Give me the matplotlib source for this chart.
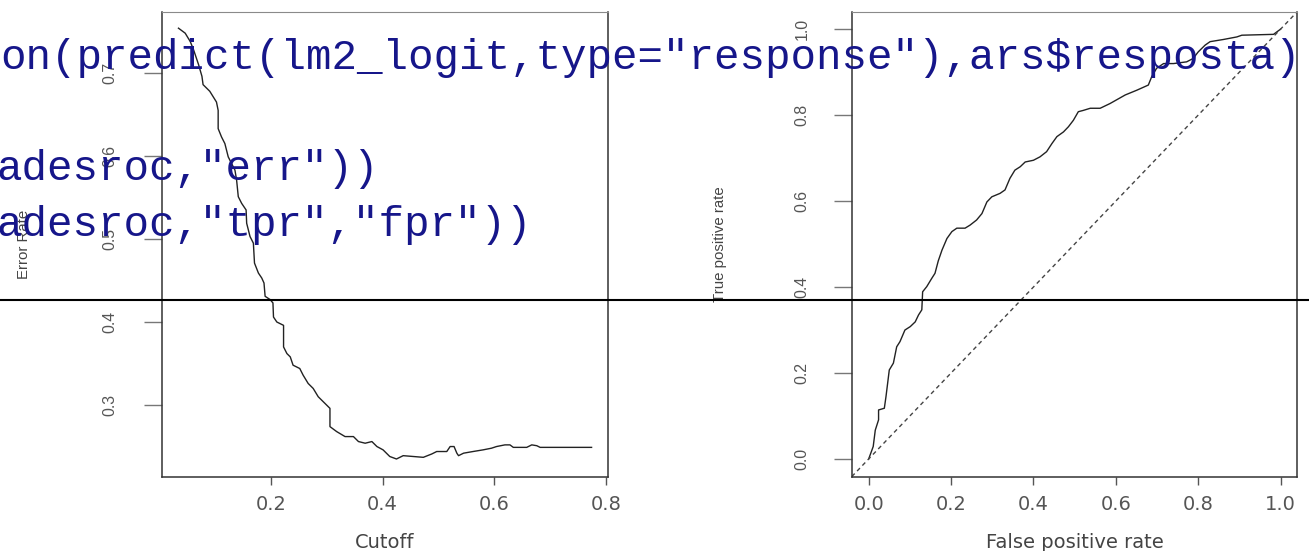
import matplotlib
matplotlib.use("Agg")
import matplotlib.pyplot as plt
from matplotlib.lines import Line2D

# error rate vs cutoff
cutoff = [0.035, 0.047, 0.056, 0.062, 0.071, 0.077, 0.079, 0.091, 0.103, 0.106,
          0.106, 0.112, 0.118, 0.124, 0.136, 0.139, 0.142, 0.148, 0.156, 0.157,
          0.163, 0.169, 0.171, 0.178, 0.184, 0.188, 0.190, 0.199, 0.204, 0.205,
          0.211, 0.223, 0.223, 0.229, 0.235, 0.240, 0.252, 0.258, 0.267, 0.276,
          0.285, 0.297, 0.306, 0.306, 0.318, 0.333, 0.348, 0.357, 0.369, 0.381,
          0.390, 0.401, 0.413, 0.425, 0.437, 0.455, 0.473, 0.488, 0.497, 0.515,
          0.521, 0.528, 0.533, 0.536, 0.545, 0.562, 0.580, 0.595, 0.604, 0.619,
          0.628, 0.634, 0.658, 0.667, 0.676, 0.682, 0.774]
err_rate = [0.754, 0.748, 0.738, 0.728, 0.710, 0.696, 0.686, 0.678, 0.665, 0.655,
            0.633, 0.623, 0.615, 0.599, 0.583, 0.571, 0.551, 0.543, 0.535, 0.519,
            0.503, 0.495, 0.471, 0.459, 0.453, 0.447, 0.431, 0.427, 0.423, 0.406,
            0.400, 0.396, 0.370, 0.362, 0.358, 0.348, 0.344, 0.336, 0.326, 0.320,
            0.310, 0.302, 0.296, 0.274, 0.268, 0.262, 0.262, 0.256, 0.254, 0.256,
            0.250, 0.246, 0.238, 0.235, 0.239, 0.238, 0.237, 0.241, 0.244, 0.244,
            0.250, 0.250, 0.242, 0.239, 0.242, 0.244, 0.246, 0.248, 0.250, 0.252,
            0.252, 0.249, 0.249, 0.252, 0.251, 0.249, 0.249]

# ROC curve (right panel)
fpr = [0.000, 0.008, 0.011, 0.016, 0.024, 0.024, 0.038, 0.042, 0.046, 0.050,
       0.060, 0.068, 0.076, 0.088, 0.101, 0.113, 0.121, 0.129, 0.131, 0.141,
       0.153, 0.161, 0.169, 0.178, 0.190, 0.202, 0.214, 0.234, 0.246, 0.262,
       0.275, 0.287, 0.299, 0.319, 0.331, 0.343, 0.355, 0.368, 0.380, 0.400,
       0.416, 0.432, 0.445, 0.457, 0.473, 0.485, 0.497, 0.509, 0.521, 0.538,
       0.562, 0.586, 0.623, 0.651, 0.679, 0.687, 0.699, 0.716, 0.740, 0.772,
       0.788, 0.800, 0.817, 0.829, 0.861, 0.894, 0.906, 0.983, 1.000]
tpr = [0.000, 0.021, 0.029, 0.067, 0.091, 0.114, 0.118, 0.145, 0.176, 0.207,
       0.223, 0.261, 0.273, 0.300, 0.308, 0.319, 0.335, 0.347, 0.389, 0.401,
       0.420, 0.432, 0.461, 0.486, 0.513, 0.529, 0.537, 0.537, 0.544, 0.556,
       0.571, 0.598, 0.610, 0.618, 0.626, 0.653, 0.672, 0.680, 0.691, 0.695,
       0.703, 0.715, 0.734, 0.750, 0.761, 0.773, 0.788, 0.808, 0.811, 0.816,
       0.816, 0.827, 0.847, 0.858, 0.870, 0.889, 0.909, 0.920, 0.920, 0.924,
       0.932, 0.947, 0.963, 0.971, 0.976, 0.982, 0.986, 0.988, 1.000]

left_xticks = [0.2, 0.4, 0.6, 0.8]
left_yticks = [0.3, 0.4, 0.5, 0.6, 0.7]
right_ticks = [0.0, 0.2, 0.4, 0.6, 0.8, 1.0]

code_lines = ['on(predict(lm2_logit,type="response"),ars$resposta)',
              'adesroc,"err"))',
              'adesroc,"tpr","fpr"))']

W, H = 1309, 551
fig = plt.figure(figsize=(W / 100, H / 100), dpi=100)
fig.patch.set_facecolor("white")

ax1 = fig.add_axes([161.7 / W, 74 / H, 446.3 / W, 465 / H])
ax2 = fig.add_axes([851.8 / W, 74 / H, 445.2 / W, 465 / H])

ax1.plot(cutoff, err_rate, color="#222222", lw=1.0)
ax1.set_xlim(0.005, 0.8034)
ax1.set_ylim(0.2133, 0.7735)
ax1.set_xticks(left_xticks)
ax1.set_xticklabels([f"{t:.1f}" for t in left_xticks])
ax1.set_yticks(left_yticks)
ax1.set_yticklabels([f"{t:.1f}" for t in left_yticks])

ax2.plot(fpr, tpr, color="#222222", lw=1.0)
ax2.axline((0, 0), slope=1, color="#444444", lw=1.0, ls=(0, (3, 2.5)))
ax2.set_xlim(-0.041, 1.040)
ax2.set_ylim(-0.042, 1.040)
ax2.set_xticks(right_ticks)
ax2.set_xticklabels([f"{t:.1f}" for t in right_ticks])
ax2.set_yticks(right_ticks)
ax2.set_yticklabels([f"{t:.1f}" for t in right_ticks])

for ax, ypad in ((ax1, 19), (ax2, 17.5)):
    for side in ("left", "bottom", "right"):
        ax.spines[side].set_color("#333333")
        ax.spines[side].set_linewidth(1.1)
    ax.spines["top"].set_color("#8a8a8a")
    ax.tick_params(axis="x", length=5.5, width=1, color="#555555", pad=7.5,
                   labelsize=14, labelcolor="#555555")
    ax.tick_params(axis="y", length=13, width=1, color="#777777", pad=ypad,
                   labelsize=11.4, labelcolor="#555555")
    for lab in ax.get_yticklabels():
        lab.set_rotation(90)
        lab.set_va("center")
        lab.set_family("Liberation Sans")

ax1.set_xlabel("Cutoff", fontsize=14, color="#444444", va="center")
ax1.xaxis.set_label_coords(0.5, -0.14)
ax2.set_xlabel("False positive rate", fontsize=14, color="#444444", va="center")
ax2.xaxis.set_label_coords(0.5, -0.14)
ax1.set_ylabel("Error Rate", fontsize=10.8, color="#444444", family="Liberation Sans",
               va="center", ha="center")
ax1.yaxis.set_label_coords(-0.3085, 0.5)
ax2.set_ylabel("True positive rate", fontsize=10.8, color="#444444",
               family="Liberation Sans", va="center", ha="center")
ax2.yaxis.set_label_coords(-0.296, 0.5)

# pasted code text and the rule over the plots
code_x = [0, -4, -4]
code_y = [69, 180, 236]
for txt, x, y in zip(code_lines, code_x, code_y):
    fig.text(x / W, 1 - y / H, txt, family="Liberation Mono", fontsize=30.6,
             color="#16168a", ha="left", va="baseline")
fig.add_artist(Line2D([0, 1], [1 - 300 / H, 1 - 300 / H], transform=fig.transFigure,
                      color="black", lw=1.5))

fig.savefig("out.png", dpi=100)
